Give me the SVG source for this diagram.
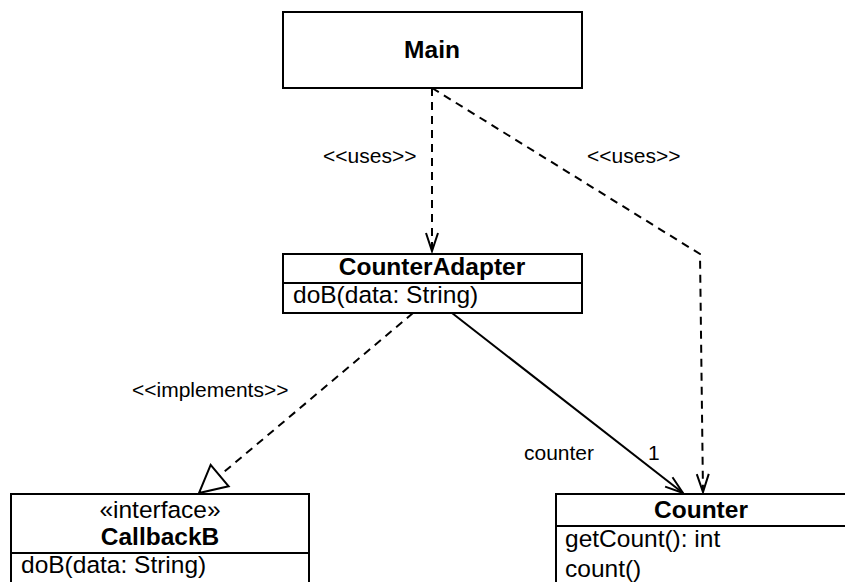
<svg xmlns="http://www.w3.org/2000/svg" width="845" height="582" viewBox="0 0 845 582">
<style>
.box{fill:#fff;stroke:#000;stroke-width:2}
.div{stroke:#000;stroke-width:2}
.t{font-family:"Liberation Sans",Arial,Helvetica,sans-serif;font-size:24.5px;fill:#000}
.b{font-weight:bold}
.m{text-anchor:middle}
.lbl{font-family:"Liberation Sans",Arial,Helvetica,sans-serif;font-size:21px;fill:#000}
.dash{fill:none;stroke:#000;stroke-width:2;stroke-dasharray:8,6}
.solid{fill:none;stroke:#000;stroke-width:2}
</style>
<defs>
<marker id="open" markerUnits="userSpaceOnUse" markerWidth="20" markerHeight="14" refX="18" refY="6" orient="auto" overflow="visible">
<path d="M0,0 L18,6 L0,12" fill="none" stroke="#000" stroke-width="2"/>
</marker>
<marker id="tri" markerUnits="userSpaceOnUse" markerWidth="30" markerHeight="30" refX="27" refY="14" orient="auto" overflow="visible">
<path d="M0,0 L27,14 L0,28 Z" fill="#fff" stroke="#000" stroke-width="2"/>
</marker>
</defs>
<g id="connectors">
<path class="dash" d="M432,88 L432,251" marker-end="url(#open)"/>
<path class="dash" d="M432,88 L700,254 L703,492" marker-end="url(#open)"/>
<path class="dash" d="M413,313 L199,493" marker-end="url(#tri)"/>
<path class="solid" d="M452,313 L683,493" marker-end="url(#open)"/>
<text class="lbl" x="323" y="163">&lt;&lt;uses&gt;&gt;</text>
<text class="lbl" x="587" y="163">&lt;&lt;uses&gt;&gt;</text>
<text class="lbl" x="132" y="397">&lt;&lt;implements&gt;&gt;</text>
<text class="lbl" x="524" y="460">counter</text>
<text class="lbl" x="648" y="460">1</text>
</g>
<g id="Main">
<rect class="box" x="283" y="12" width="299" height="76"/>
<text class="t b m" x="432" y="58">Main</text>
</g>
<g id="CounterAdapter">
<rect class="box" x="283" y="254" width="299" height="59"/>
<line class="div" x1="283" y1="283" x2="582" y2="283"/>
<text class="t b m" x="432" y="275">CounterAdapter</text>
<text class="t" x="293" y="303">doB(data: String)</text>
</g>
<g id="CallbackB">
<rect class="box" x="11" y="494" width="298" height="100"/>
<line class="div" x1="11" y1="553" x2="309" y2="553"/>
<text class="t m" x="160" y="518">«interface»</text>
<text class="t b m" x="160" y="545">CallbackB</text>
<text class="t" x="21" y="573">doB(data: String)</text>
</g>
<g id="Counter">
<rect class="box" x="556" y="494" width="290" height="100"/>
<line class="div" x1="556" y1="526" x2="846" y2="526"/>
<text class="t b m" x="701" y="518">Counter</text>
<text class="t" x="565" y="547">getCount(): int</text>
<text class="t" x="565" y="577">count()</text>
</g>
</svg>
